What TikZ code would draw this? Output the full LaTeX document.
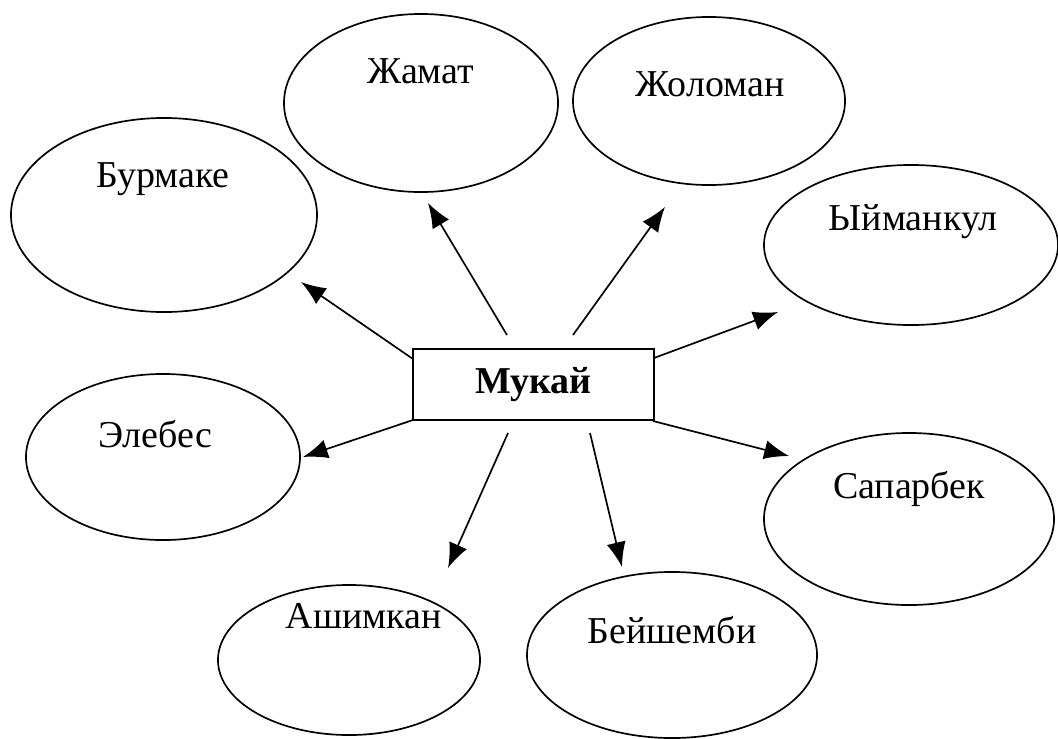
\documentclass[tikz,border=0pt]{standalone}
\usepackage{fontspec}
\setmainfont{Liberation Serif}
\usetikzlibrary{shapes.geometric,arrows.meta}

\tikzset{
  oval/.style={draw, ellipse, line width=1.2pt, inner sep=0pt},
  nametext/.style={anchor=base, font=\fontsize{27}{31}\selectfont},
  arr/.style={-{Latex[length=0.62cm,width=0.48cm]}, line width=1.2pt}
}

\begin{document}
\begin{tikzpicture}[x=0.025cm, y=-0.025cm]
    \useasboundingbox (0,0) rectangle (1058,738);
        % centre box
        \node [draw, line width=1.2pt, minimum width=6.025cm, minimum height=1.775cm,
               font=\fontsize{27}{31}\selectfont\bfseries] (muk) at (533.5,384.5) {Мукай};
        % the ovals
        \node [oval, minimum width=7.65cm, minimum height=4.85cm] (burmake) at (164,215) {};
        \node [oval, minimum width=6.85cm, minimum height=4.45cm] (jamat) at (421,103) {};
        \node [oval, minimum width=6.8cm, minimum height=4.2cm] (joloman) at (709,101) {};
        \node [oval, minimum width=7.35cm, minimum height=4.0cm] (yimankul) at (911,245) {};
        \node [oval, minimum width=6.85cm, minimum height=4.15cm] (elebes) at (163,457) {};
        \node [oval, minimum width=7.25cm, minimum height=4.3cm] (saparbek) at (909,519) {};
        \node [oval, minimum width=6.55cm, minimum height=3.75cm] (ashimkan) at (349,660) {};
        \node [oval, minimum width=7.25cm, minimum height=4.15cm] (beyshembi) at (672,655) {};
        % names
        \node [nametext] (burmake-t) at (163,187) {Бурмаке};
        \node [nametext] (jamat-t) at (421,83) {Жамат};
        \node [nametext] (joloman-t) at (710,96) {Жоломан};
        \node [nametext] (yimankul-t) at (913,230) {Ыйманкул};
        \node [nametext] (elebes-t) at (155,447) {Элебес};
        \node [nametext] (saparbek-t) at (909,498) {Сапарбек};
        \node [nametext] (ashimkan-t) at (364,628) {Ашимкан};
        \node [nametext] (beyshembi-t) at (672,643) {Бейшемби};
        % arrow ends
        \coordinate (s1) at (413,359); \coordinate (t1) at (301,282);
        \coordinate (s2) at (507,335); \coordinate (t2) at (428,203);
        \coordinate (s3) at (573,335); \coordinate (t3) at (665,207);
        \coordinate (s4) at (654,358); \coordinate (t4) at (778,312);
        \coordinate (s5) at (413,420); \coordinate (t5) at (303,457);
        \coordinate (s6) at (653,421); \coordinate (t6) at (789,456);
        \coordinate (s7) at (508,433); \coordinate (t7) at (448,568);
        \coordinate (s8) at (590,433); \coordinate (t8) at (622,567);
        \foreach \i in {1,...,8}
            \draw [arr] (s\i) -- (t\i);
    \end{tikzpicture}
\end{document}
